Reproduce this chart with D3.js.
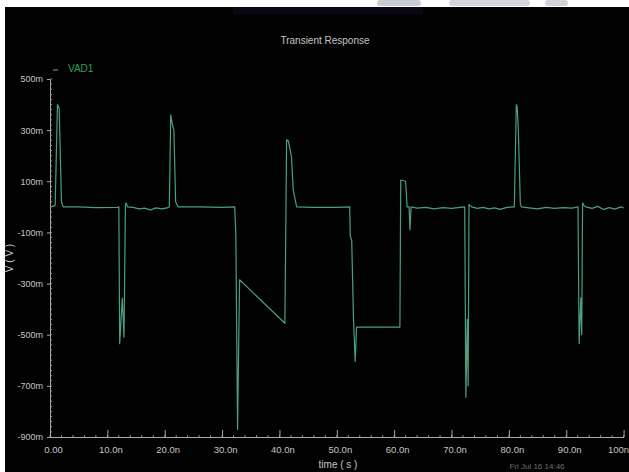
<!DOCTYPE html>
<html>
<head>
<meta charset="utf-8">
<script src="https://cdn.jsdelivr.net/npm/d3@7"></script>
<style>
  html, body { margin: 0; padding: 0; background: #ffffff; }
  svg { display: block; }
  text { font-family: "Liberation Sans", Arial, sans-serif; }
</style>
</head>
<body>
<svg id="chart" width="629" height="472"></svg>
<script>
// Transient waveform: time in ns, voltage in mV
const timeNs = [
  0, 0.9, 1.3, 1.6, 2.0, 2.3, 5, 8, 11.8,
  12.0, 12.15, 12.6, 12.9, 13.15, 13.3, 13.5,
  14.5, 15.5, 16.5, 17.5, 18.5, 19.5, 20.6,
  20.8, 21.05, 21.4, 21.6, 21.9, 22.3, 26, 30, 32.2,
  32.4, 32.7, 33.05, 40.95, 41.25, 41.55, 42.1, 42.4, 43.0,
  46, 50, 52.25, 52.35, 52.6, 52.9, 53.2, 53.45, 61.0, 61.15, 62.0, 62.25, 62.6, 62.75, 62.95,
  64, 65.5, 67, 68.5, 70, 71.5, 72.3,
  72.5, 72.75, 72.9, 73.05, 73.25, 73.5,
  74.5, 75.5, 76.5, 77.5, 78.5, 79.5, 80.8,
  80.95, 81.3, 81.45, 81.65, 82.0, 82.2,
  83.5, 85, 86.5, 88, 89.5, 91, 92.05,
  92.25, 92.55, 92.7, 92.85, 93.1, 93.4,
  94.5, 95.5, 96.5, 97.5, 98.5, 99.5, 100
];
const voltMv = [
  0, 5, 400, 385, 20, 0, 0, -3, -2,
  0, -535, -357, -510, 10, 15, 0,
  -2, -8, -5, -12, -4, -8, -3,
  0, 360, 315, 300, 20, 0, 0, -2, 0,
  -110, -870, -285, -455, 262, 258, 195, 66, 0,
  -2, -2, 0, -115, -130, -430, -605, -470, -470, 105, 100, 0, 0, -90, 0,
  -5, -2, -8, -3, -6, -2, 0,
  -745, -440, -700, 10, 5, 0,
  -6, -2, -8, -4, -10, -3, 0,
  0, 400, 390, 300, 10, 0,
  -4, -8, -2, -6, -3, -5, 0,
  -535, -356, -500, 15, 5, 0,
  -6, 2, -10, -3, -9, 0, -4
];

const xTickValues = [0, 10, 20, 30, 40, 50, 60, 70, 80, 90, 100];
const xTickLabels = ["0.00", "10.0n", "20.0n", "30.0n", "40.0n", "50.0n", "60.0n", "70.0n", "80.0n", "90.0n", "100n"];
const yTickValues = [500, 300, 100, -100, -300, -500, -700, -900];
const yTickLabels = ["500m", "300m", "100m", "-100m", "-300m", "-500m", "-700m", "-900m"];

const chartTitle = "Transient Response";
const seriesName = "VAD1";
const xAxisTitle = "time ( s )";
const yAxisTitle = "V ( V )";
const footNote = "Fri Jul 16 14:46";

const svg = d3.select("#chart");
const W = 629, H = 472;

// dark plotting canvas with a thin light border on the top/left edges
svg.append("rect").attr("x", 0).attr("y", 0).attr("width", W).attr("height", H).attr("fill", "#ffffff");
svg.append("rect").attr("x", 5).attr("y", 7).attr("width", W - 5).attr("height", H - 7).attr("fill", "#020203");

// faint logo band along the top edge
const band = svg.append("g");
band.append("rect").attr("x", 233).attr("y", 7).attr("width", 190).attr("height", 7).attr("fill", "#0d0816").attr("opacity", 0.9);
band.append("rect").attr("x", 377).attr("y", 0).attr("width", 44).attr("height", 6).attr("rx", 3).attr("fill", "#c9ccd3");
band.append("rect").attr("x", 449).attr("y", 0).attr("width", 81).attr("height", 6).attr("rx", 3).attr("fill", "#d3d6dc");
band.append("rect").attr("x", 545).attr("y", 0).attr("width", 23).attr("height", 6).attr("rx", 3).attr("fill", "#d0d3d9");

const x = d3.scaleLinear().domain([0, 100]).range([50, 623.6]);
const y = d3.scaleLinear().domain([-900, 500]).range([437, 79]);

const axisColor = "#a9a9a9";
const labelColor = "#c4c4c4";

// minor ticks
const gMinor = svg.append("g").attr("stroke", "#8a8a8a").attr("stroke-width", 1);
d3.range(0, 100.01, 2).forEach(t => {
  gMinor.append("line").attr("x1", x(t)).attr("x2", x(t)).attr("y1", y(-900)).attr("y2", y(-900) - 2);
});
d3.range(-900, 500.01, 20).forEach(v => {
  gMinor.append("line").attr("x1", x(0)).attr("x2", x(0) + 2).attr("y1", y(v)).attr("y2", y(v));
});

// x axis
const gx = svg.append("g")
  .attr("transform", `translate(0,${y(-900)})`)
  .call(d3.axisBottom(x).tickValues(xTickValues).tickFormat((d, i) => xTickLabels[i]).tickSize(-7).tickSizeOuter(0).tickPadding(9));
gx.select(".domain").attr("stroke", axisColor);
gx.selectAll(".tick line").attr("stroke", axisColor);
gx.selectAll(".tick text").attr("fill", labelColor).attr("font-size", 9.5).attr("dx", 3);
// keep the last label inside the canvas
gx.selectAll(".tick text").filter(d => d === 100).attr("text-anchor", "end").attr("dx", 5);

// y axis
const gy = svg.append("g")
  .attr("transform", `translate(${x(0)},0)`)
  .call(d3.axisLeft(y).tickValues(yTickValues).tickFormat((d, i) => yTickLabels[i]).tickSize(3).tickSizeOuter(0).tickPadding(4));
gy.select(".domain").attr("stroke", axisColor);
gy.selectAll(".tick line").attr("stroke", axisColor);
gy.selectAll(".tick text").attr("fill", labelColor).attr("font-size", 9);

// waveform
const points = timeNs.map((t, i) => [t, voltMv[i]]);
const line = d3.line().x(d => x(d[0])).y(d => y(d[1]));
svg.append("path")
  .datum(points)
  .attr("d", line)
  .attr("fill", "none")
  .attr("stroke", "#4a9e84")
  .attr("stroke-width", 1.2)
  .attr("stroke-linejoin", "round");

// title
svg.append("text").attr("x", 325).attr("y", 44).attr("text-anchor", "middle")
  .attr("fill", labelColor).attr("font-size", 10).text(chartTitle);

// legend
svg.append("line").attr("x1", 53).attr("x2", 58).attr("y1", 70).attr("y2", 70)
  .attr("stroke", "#9a9a9a").attr("stroke-width", 1);
svg.append("text").attr("x", 68).attr("y", 72)
  .attr("fill", "#2f9f5e").attr("font-size", 10).text(seriesName);

// axis titles
svg.append("text").attr("x", 338).attr("y", 468).attr("text-anchor", "middle")
  .attr("fill", labelColor).attr("font-size", 10).text(xAxisTitle);
svg.append("text").attr("transform", "translate(13,258) rotate(-90)").attr("text-anchor", "middle")
  .attr("fill", labelColor).attr("font-size", 10).text(yAxisTitle);

// footer note
svg.append("text").attr("x", 537).attr("y", 469).attr("text-anchor", "middle")
  .attr("fill", "#6e6e6e").attr("font-size", 8).text(footNote);
</script>
</body>
</html>
